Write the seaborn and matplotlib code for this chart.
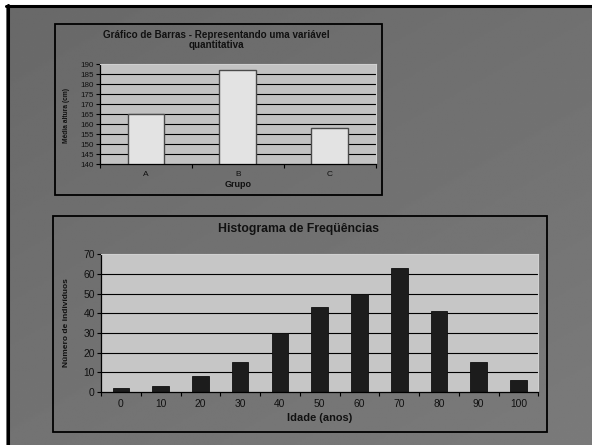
import numpy as np
import pandas as pd
import matplotlib
matplotlib.use("Agg")
import matplotlib.pyplot as plt
from matplotlib.patches import Rectangle
from matplotlib.lines import Line2D
import seaborn as sns

# ---- data ----
grupos = ["A", "B", "C"]
media_altura = [165, 187, 158]
altura_ticks = [140, 145, 150, 155, 160, 165, 170, 175, 180, 185, 190]

idades = ["0", "10", "20", "30", "40", "50", "60", "70", "80", "90", "100"]
num_individuos = [2, 3, 8, 15, 30, 43, 50, 63, 41, 15, 6]
freq_ticks = [0, 10, 20, 30, 40, 50, 60, 70]

sns.set_theme(style="white")
plt.rcParams["font.family"] = ["Liberation Sans", "DejaVu Sans"]

W, H = 592, 445
fig = plt.figure(figsize=(W / 100, H / 100), dpi=100)

def fx(px):
    return px / W

def fy(py):
    return 1 - py / H

# slide background: grey gradient
bg = fig.add_axes([0, 0, 1, 1], zorder=-10)
yy, xx = np.mgrid[0:1:200j, 0:1:260j]
shade = 0.41 + 0.04 * yy + 0.03 * xx
bg.imshow(shade, cmap="gray", vmin=0, vmax=1, aspect="auto",
          extent=[0, 1, 0, 1], origin="upper")
bg.set_xlim(0, 1)
bg.set_ylim(0, 1)
bg.axis("off")

# white margin and black slide edge on top/left
fig.patches.append(Rectangle((0, fy(5)), 1, 5 / H, transform=fig.transFigure,
                             facecolor="white", edgecolor="none", zorder=-5))
fig.patches.append(Rectangle((0, 0), 6 / W, 1, transform=fig.transFigure,
                             facecolor="white", edgecolor="none", zorder=-5))
fig.add_artist(Line2D([fx(6), 1], [fy(5.8), fy(5.8)], transform=fig.transFigure,
                      color="black", lw=2.2))
fig.add_artist(Line2D([fx(7.5), fx(7.5)], [0, fy(5)], transform=fig.transFigure,
                      color="black", lw=2.2))

# chart frames
for (x0, y0, x1, y1) in [(55, 24, 382, 195), (52.7, 216, 546.7, 432)]:
    fig.patches.append(Rectangle((fx(x0), fy(y1)), fx(x1) - fx(x0), fy(y0) - fy(y1),
                                 transform=fig.transFigure, facecolor="none",
                                 edgecolor="black", lw=1.3, zorder=5))

def style_axis(ax, n, ticks, face, tick_fs):
    ax.set_facecolor(face)
    ax.set_yticks(ticks)
    ax.set_ylim(ticks[0], ticks[-1])
    ax.set_xlim(-0.5, n - 0.5)
    for y in ticks[1:-1]:
        ax.axhline(y, color="black", lw=0.8, zorder=0.5)
    ax.set_xticks(np.arange(-0.5, n, 1.0), minor=True)
    ax.tick_params(axis="x", which="major", length=0, pad=5, labelsize=tick_fs,
                   colors="#111111")
    ax.tick_params(axis="x", which="minor", length=3, width=0.8, color="black",
                   direction="out", bottom=True)
    ax.tick_params(axis="y", which="major", length=3, width=0.8, color="black",
                   direction="out", left=True, pad=1.5, labelsize=tick_fs,
                   labelcolor="#111111")
    for s in ["left", "bottom"]:
        ax.spines[s].set_color("black")
        ax.spines[s].set_linewidth(0.9)
    for s in ["top", "right"]:
        ax.spines[s].set_color("#d0d0d0")
        ax.spines[s].set_linewidth(0.8)

# ---- top chart: bar chart of a quantitative variable ----
ax1 = fig.add_axes([fx(100), fy(164.3), fx(375.7) - fx(100), fy(64.3) - fy(164.3)])
df1 = pd.DataFrame({"Grupo": grupos, "Media": media_altura})
sns.barplot(data=df1, x="Grupo", y="Media", ax=ax1, color="#e3e3e3",
            edgecolor="#4a4a4a", linewidth=1.0, width=0.4, saturation=1, zorder=2)
style_axis(ax1, len(grupos), altura_ticks, "#c2c2c2", 6.0)
ax1.tick_params(axis="y", labelsize=5.8)
ax1.set_xlabel("Grupo", fontsize=6.5, fontweight="bold", color="#111111", va="center")
ax1.xaxis.set_label_coords(0.5, -0.20)
ax1.set_ylabel("Média altura (cm)", fontsize=4.8, fontweight="bold", color="#111111",
               va="center")
ax1.yaxis.set_label_coords(-0.121, 0.49)
fig.text(fx(216.7), fy(39.7), "Gráfico de Barras - Representando uma variável\nquantitativa",
         ha="center", va="center", fontsize=7.1, fontweight="bold", color="#111111",
         linespacing=1.05)

# ---- bottom chart: frequency histogram ----
ax2 = fig.add_axes([fx(101), fy(392), fx(538.3) - fx(101), fy(254.3) - fy(392)])
df2 = pd.DataFrame({"Idade": idades, "N": num_individuos})
sns.barplot(data=df2, x="Idade", y="N", ax=ax2, color="#1c1c1c",
            edgecolor="#101010", linewidth=0.6, width=0.42, saturation=1, zorder=2)
style_axis(ax2, len(idades), freq_ticks, "#c6c6c6", 7.4)
ax2.set_xlabel("Idade (anos)", fontsize=7.9, fontweight="bold", color="#111111",
               va="center")
ax2.xaxis.set_label_coords(0.5, -0.187)
ax2.set_ylabel("Número de indivíduos", fontsize=6.0, fontweight="bold", color="#111111",
               va="center")
ax2.yaxis.set_label_coords(-0.078, 0.505)
fig.text(fx(298), fy(229), "Histograma de Freqüências", ha="center", va="center",
         fontsize=8.8, fontweight="bold", color="#111111")

fig.savefig("out.png", dpi=100)
